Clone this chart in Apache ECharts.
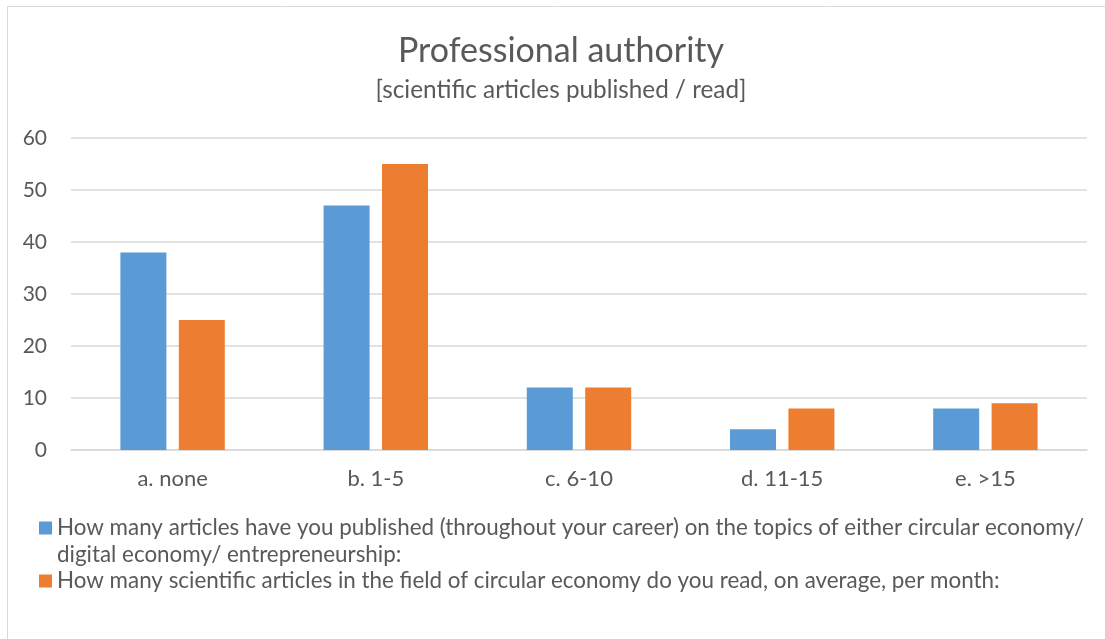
<!DOCTYPE html>
<html>
<head>
<meta charset="utf-8">
<script src="https://cdn.jsdelivr.net/npm/echarts@6/dist/echarts.min.js"></script>
<style>
html,body{margin:0;padding:0;background:#fff;}
#chart{width:1105px;height:639px;}
</style>
</head>
<body>
<div id="chart"></div>
<script>
const categories = ['a. none', 'b. 1-5', 'c. 6-10', 'd. 11-15', 'e. >15'];
const publishedValues = [38, 47, 12, 4, 8];
const readValues = [25, 55, 12, 8, 9];
const seriesNames = [
  'How many articles have you published (throughout your career) on the topics of either circular economy/ digital economy/ entrepreneurship:',
  'How many scientific articles in the field of circular economy do you read, on average, per month:'
];
const yTicks = { min: 0, max: 60, interval: 10 };

const FONT = 'Lato, "Open Sans", sans-serif';
const TXT = '#595959';
const LH = 27;

const chart = echarts.init(document.getElementById('chart'), null, { renderer: 'canvas' });
chart.setOption({
  animation: false,
  backgroundColor: '#fff',
  textStyle: { fontFamily: FONT },
  graphic: [{
    type: 'rect',
    shape: { x: 7.5, y: 6.5, width: 1120, height: 660 },
    style: { fill: 'none', stroke: '#d9d9d9', lineWidth: 1 },
    silent: true
  }],
  title: {
    text: 'Professional authority',
    subtext: '[scientific articles published / read]',
    left: 561,
    textAlign: 'center',
    top: 31,
    padding: 0,
    itemGap: 5,
    textStyle: { fontFamily: FONT, fontSize: 34, fontWeight: 'normal', color: TXT, lineHeight: 40 },
    subtextStyle: { fontFamily: FONT, fontSize: 24.3, color: TXT, lineHeight: 28 }
  },
  grid: { left: 71, right: 18, top: 138, bottom: 189, containLabel: false },
  legend: [{
    data: [seriesNames[0]],
    left: 39,
    top: 528 - 1.5 * LH,
    padding: 0,
    itemWidth: 13,
    itemHeight: 13,
    icon: 'rect',
    selectedMode: false,
    formatter: function () {
      return ' \nHow many articles have you published (throughout your career) on the topics of either circular economy/\ndigital economy/ entrepreneurship:';
    },
    textStyle: { fontFamily: FONT, fontSize: 22.4, color: TXT, lineHeight: LH }
  }, {
    data: [seriesNames[1]],
    left: 39,
    top: 581 - LH / 2,
    padding: 0,
    itemWidth: 13,
    itemHeight: 13,
    icon: 'rect',
    selectedMode: false,
    textStyle: { fontFamily: FONT, fontSize: 22.4, color: TXT, lineHeight: LH }
  }],
  xAxis: {
    type: 'category',
    data: categories,
    axisTick: { show: false },
    axisLine: { lineStyle: { color: '#d9d9d9', width: 1.5 } },
    axisLabel: { fontFamily: FONT, fontSize: 22, color: TXT, margin: 18 }
  },
  yAxis: {
    type: 'value',
    min: yTicks.min,
    max: yTicks.max,
    interval: yTicks.interval,
    axisLine: { show: false },
    axisTick: { show: false },
    axisLabel: { fontFamily: FONT, fontSize: 21, color: TXT, margin: 24 },
    splitLine: { lineStyle: { color: '#d9d9d9', width: 1.5 } }
  },
  series: [{
    name: seriesNames[0],
    type: 'bar',
    data: publishedValues,
    barWidth: 46,
    barGap: '27%',
    itemStyle: { color: '#5B9BD5' }
  }, {
    name: seriesNames[1],
    type: 'bar',
    data: readValues,
    barWidth: 46,
    barGap: '27%',
    itemStyle: { color: '#ED7D31' }
  }]
});
</script>
</body>
</html>
